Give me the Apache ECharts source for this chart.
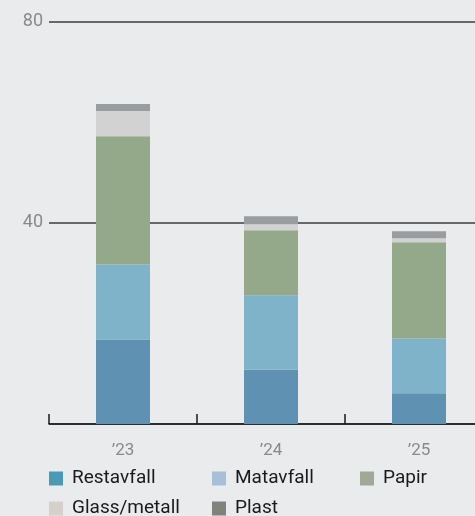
<!DOCTYPE html>
<html><head><meta charset="utf-8">
<script src="https://cdn.jsdelivr.net/npm/echarts@6/dist/echarts.min.js"></script>
<style>html,body{margin:0;padding:0;background:#eaebed;}#c{width:475px;height:516px;}</style>
</head><body><div id="c"></div>
<script>
const categories = ['\u201923', '\u201924', '\u201925'];
const restavfall = [16.8, 10.8, 6.1];
const matavfall = [14.9, 14.8, 10.9];
const papir = [25.5, 12.9, 19.1];
const glassMetall = [5.0, 1.2, 0.8];
const plast = [1.4, 1.6, 1.4];
const yTicks = [0, 40, 80];

const names = ['Restavfall', 'Matavfall', 'Papir', 'Glass/metall', 'Plast'];
const values = [restavfall, matavfall, papir, glassMetall, plast];
const barColors = ['#5f91b3', '#7fb3c9', '#94a88a', '#d2d2d2', '#9a9d9f'];
const legendColors = ['#4a9ab5', '#a8bfd8', '#a0a896', '#d5d0ca', '#80837a'];
const legendPos = [[49, 469], [212, 469], [360, 469], [49, 499], [212, 499]];
const font = 'Roboto, "Noto Sans", sans-serif';

const chart = echarts.init(document.getElementById('c'));
chart.setOption({
  backgroundColor: '#eaebed',
  animation: false,
  grid: { left: 49, width: 444, top: 21.5, height: 402.5, containLabel: false, outerBoundsMode: 'none' },
  legend: names.map((n, i) => ({
    left: legendPos[i][0], top: legendPos[i][1], padding: 0,
    itemWidth: 14, itemHeight: 14, itemGap: 0,
    icon: 'rect',
    textStyle: { fontSize: 19, color: '#1a1a1a', fontFamily: font, padding: [0, 0, 0, 4] },
    data: [{ name: n, itemStyle: { color: legendColors[i] } }]
  })),
  xAxis: {
    type: 'category', data: categories,
    axisLine: { lineStyle: { color: '#1a1a1a', width: 1.5 } },
    axisTick: { show: true, inside: true, length: 10, lineStyle: { color: '#1a1a1a', width: 1.5 } },
    axisLabel: { color: '#8a8a85', fontSize: 17, fontFamily: font, margin: 18 }
  },
  yAxis: {
    type: 'value', min: yTicks[0], max: yTicks[2], interval: 40,
    axisLine: { show: false }, axisTick: { show: false },
    axisLabel: { color: '#8a8a85', fontSize: 18, fontFamily: font, margin: 6,
      formatter: v => yTicks.includes(v) && v !== 0 ? String(v) : '' },
    splitLine: { lineStyle: { color: '#3a3c3c', width: 1.5 } }
  },
  series: names.map((n, i) => ({
    name: n, type: 'bar', stack: 'a', barWidth: 54,
    itemStyle: { color: barColors[i] },
    data: values[i]
  }))
});
</script></body></html>
